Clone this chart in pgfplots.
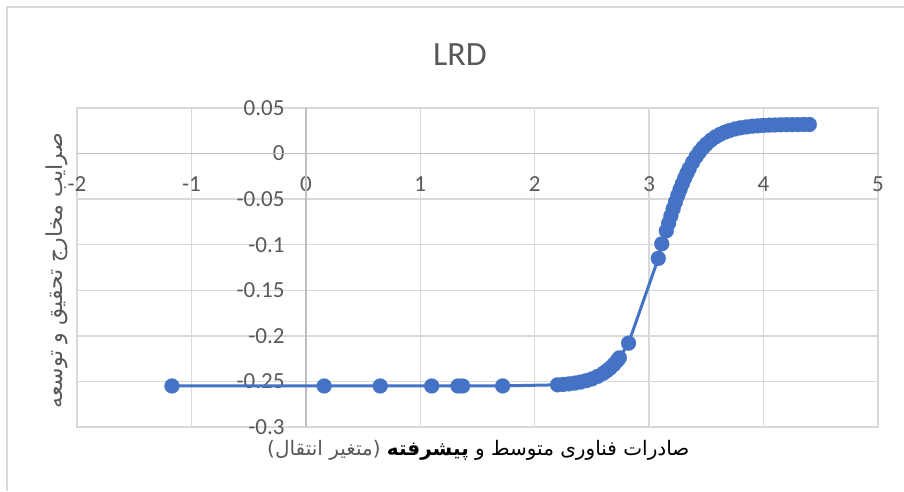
\documentclass[border=0pt]{standalone}
\usepackage{fontspec}
\setmainfont{Carlito}
\newfontfamily\arabicfont[Script=Arabic]{DejaVu Sans}
\usepackage{pgfplots}
\pgfplotsset{compat=1.18}
\TeXXeTstate=1
\definecolor{blu}{HTML}{4472C4}
\definecolor{grd}{HTML}{D9D9D9}
\definecolor{axl}{HTML}{BFBFBF}
\definecolor{txt}{HTML}{595959}

\pgfplotstableread{
x y
-1.17 -0.2550
0.16 -0.2550
0.65 -0.2550
1.10 -0.2550
1.33 -0.2550
1.37 -0.2550
1.72 -0.2549
2.20 -0.2537
2.25 -0.2533
2.30 -0.2526
2.35 -0.2518
2.40 -0.2507
2.45 -0.2492
2.50 -0.2472
2.55 -0.2445
2.60 -0.2410
2.63 -0.2383
2.66 -0.2352
2.69 -0.2316
2.72 -0.2273
2.74 -0.2241
2.82 -0.2080
3.08 -0.1150
3.11 -0.0990
3.15 -0.0848
3.17 -0.0765
3.19 -0.0684
3.21 -0.0606
3.23 -0.0531
3.25 -0.0460
3.27 -0.0393
3.29 -0.0330
3.31 -0.0271
3.33 -0.0216
3.35 -0.0165
3.38 -0.0096
3.41 -0.0035
3.44 0.0018
3.47 0.0064
3.50 0.0103
3.54 0.0147
3.58 0.0183
3.62 0.0211
3.66 0.0234
3.70 0.0252
3.75 0.0270
3.80 0.0283
3.85 0.0292
3.90 0.0300
3.95 0.0305
4.00 0.0309
4.05 0.0312
4.10 0.0314
4.15 0.0316
4.20 0.0317
4.25 0.0318
4.30 0.0318
4.35 0.0319
4.40 0.0319
}\lrd

\begin{document}
\begin{tikzpicture}
\useasboundingbox (0,0) rectangle (904pt,491pt);
\draw[color=grd, line width=1.5pt] (7pt,0) -- (7pt,484pt) -- (904pt,484pt);
\begin{axis}[
  at={(77pt,64pt)}, anchor=south west,
  scale only axis, width=801pt, height=319pt,
  xmin=-2, xmax=5, ymin=-0.3, ymax=0.05,
  enlargelimits=false,
  axis line style={color=grd, line width=1.3pt},
  xtick={-2,-1,0,1,2,3,4,5},
  xticklabels={-2,-1,0,1,2,3,4,5},
  ytick={-0.3,-0.25,-0.2,-0.15,-0.1,-0.05,0,0.05},
  yticklabels={-0.3,-0.25,-0.2,-0.15,-0.1,-0.05,0,0.05},
  major tick length=0pt,
  grid=major, grid style={color=grd, line width=1.3pt},
  extra x ticks={0}, extra y ticks={0},
  extra x tick labels={}, extra y tick labels={},
  extra tick style={grid=major, grid style={color=axl, line width=1.3pt}},
  tick label style={font=\fontsize{23}{27}\selectfont, text=txt},
  xticklabel style={anchor=north, yshift=254pt},
  yticklabel style={anchor=east, xshift=211pt},
  title={LRD},
  title style={at={(axis description cs:0.478,1.150)}, anchor=center, font=\fontsize{34}{40}\selectfont, text=txt},
  xlabel={\arabicfont\beginR صادرات فناوری متوسط و {\color{black}\bfseries پیشرفته} (متغیر انتقال)\endR},
  xlabel style={at={(axis description cs:0.501,-0.072)}, anchor=center, font=\fontsize{20}{24}\selectfont, text=txt},
  ylabel={\arabicfont\beginR صرایب مخارج تحقیق و توسعه\endR},
  ylabel style={at={(axis description cs:-0.025,0.489)}, anchor=center, rotate=0, font=\fontsize{22}{26}\selectfont, text=txt},
]
\addplot[color=blu, line width=3pt, mark=*, mark size=7.5pt, mark options={fill=blu, draw=blu, line width=0.1pt}] table[x=x, y=y] {\lrd};
\end{axis}
\end{tikzpicture}
\end{document}
